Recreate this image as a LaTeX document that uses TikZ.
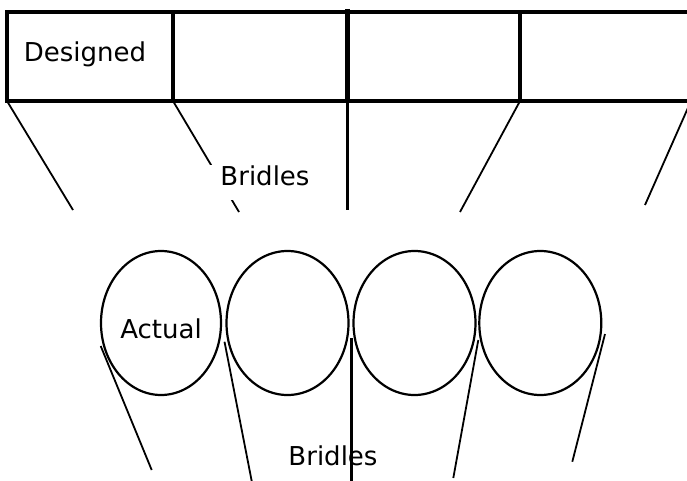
\documentclass[tikz,border=0pt]{standalone}
\usepackage{fontspec}
\setmainfont{DejaVu Sans}
\usetikzlibrary{shapes.geometric}
\begin{document}
\begin{tikzpicture}[x=1pt,y=-1pt,
  cell/.style={draw, line width=3.4pt, minimum height=89pt, inner sep=0pt, outer sep=0pt},
  loopshape/.style={draw, ellipse, line width=2.2pt, minimum width=121pt, minimum height=144pt, inner sep=0pt, outer sep=0pt},
  txt/.style={font=\fontsize{26}{31}\selectfont, inner sep=0pt, anchor=base},
  bridle/.style={line width=1.8pt},
  heavy/.style={line width=3.2pt},
]
\useasboundingbox (0,0) rectangle (687,481);
\clip (0,0) rectangle (687,481);

% designed frame: a row of rectangular cells
\node[cell, minimum width=166pt] (c1) at (90,56.5) {};
\node[cell, minimum width=174pt] (c2) at (260,56.5) {};
\node[cell, minimum width=173pt] (c3) at (433.5,56.5) {};
\node[cell, minimum width=200pt] (c4) at (620,56.5) {};
\node[txt] (designed) at (85,62) {Designed};
\draw[line width=5pt] ([yshift=3pt]c2.north east) -- (c2.south east);

% bridles hanging from the frame
\coordinate (t1) at (73,210);
\coordinate (t2) at (239,212);
\coordinate (t3) at (347.5,210);
\coordinate (t4) at (460,212);
\coordinate (t5) at (645,205);
\draw[bridle] (c1.south west) -- (t1);
\draw[bridle] (c1.south east) -- (t2);
\draw[heavy] ([xshift=0.5pt]c3.south west) -- (t3);
\draw[bridle] (c4.south west) -- (t4);
\draw[bridle] ([xshift=171pt]c4.south west) -- (t5);
\node[txt, fill=white, text height=20pt, text depth=15pt, inner xsep=10pt] (bridlesTop) at (265,185) {Bridles};

% actual shape: a chain of ellipses
\node[loopshape, minimum width=120pt] (e1) at (161,323) {};
\node[loopshape, minimum width=122pt] (e2) at (287.5,323) {};
\node[loopshape, minimum width=122pt] (e3) at (414.5,323) {};
\node[loopshape, minimum width=122pt] (e4) at (540.3,323) {};
\node[txt] (actual) at (161,338) {Actual};
\node[txt] (bridlesBottom) at (333,465) {Bridles};

% bridles hanging from the ellipses
\coordinate (b1) at (151.7,470);
\coordinate (b2) at (251.7,481);
\coordinate (b3) at (351.7,481);
\coordinate (b4) at (453.3,478);
\coordinate (b5) at (572.3,461.7);
\draw[bridle] (e1.west) ++(-0.3,23) -- (b1);
\draw[bridle] (e2.west) ++(-2,18.7) -- (b2);
\draw[heavy] (e3.west) ++(-1.8,15) -- (b3);
\draw[bridle] (e4.west) ++(-1,17) -- (b4);
\draw[bridle] (e4.east) ++(3.7,11) -- (b5);
\end{tikzpicture}
\end{document}
